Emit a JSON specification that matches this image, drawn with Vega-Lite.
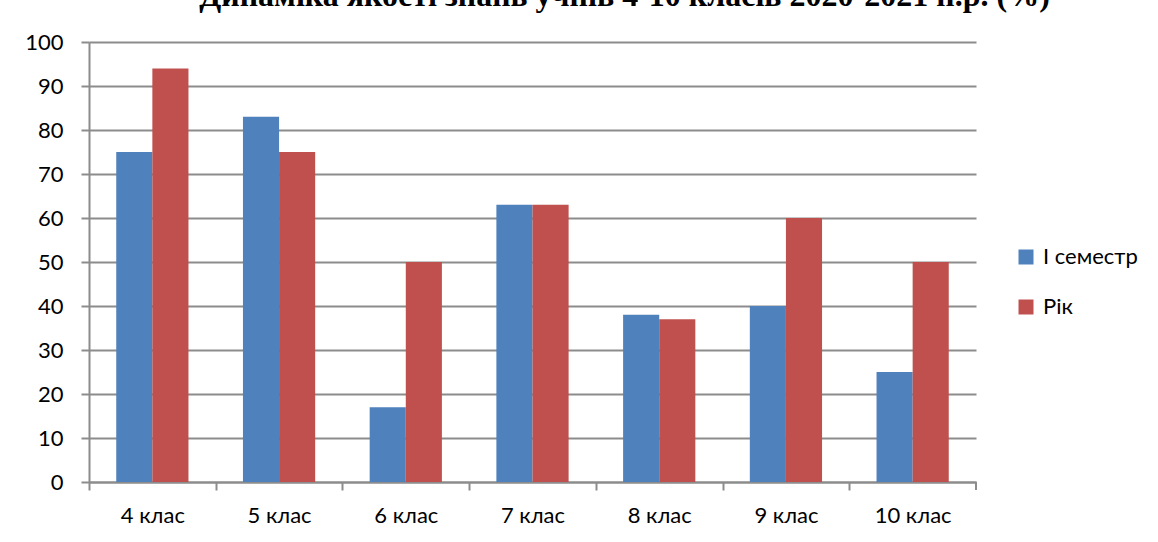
{
  "$schema": "https://vega.github.io/schema/vega-lite/v6.json",
  "width": 887,
  "height": 440,
  "autosize": {"type": "none"},
  "padding": {"left": 89, "top": 42, "right": 182, "bottom": 60},
  "background": "white",
  "title": {
    "text": "Динаміка якості знань учнів 4-10 класів 2020-2021 н.р. (%)",
    "font": "Liberation Serif",
    "fontSize": 32,
    "fontWeight": "bold",
    "color": "black",
    "anchor": "middle",
    "baseline": "alphabetic",
    "dx": 92,
    "offset": -7
  },
  "data": {
    "values": [
      {"klas": "4 клас", "series": "І семестр", "value": 75},
      {"klas": "4 клас", "series": "Рік", "value": 94},
      {"klas": "5 клас", "series": "І семестр", "value": 83},
      {"klas": "5 клас", "series": "Рік", "value": 75},
      {"klas": "6 клас", "series": "І семестр", "value": 17},
      {"klas": "6 клас", "series": "Рік", "value": 50},
      {"klas": "7 клас", "series": "І семестр", "value": 63},
      {"klas": "7 клас", "series": "Рік", "value": 63},
      {"klas": "8 клас", "series": "І семестр", "value": 38},
      {"klas": "8 клас", "series": "Рік", "value": 37},
      {"klas": "9 клас", "series": "І семестр", "value": 40},
      {"klas": "9 клас", "series": "Рік", "value": 60},
      {"klas": "10 клас", "series": "І семестр", "value": 25},
      {"klas": "10 клас", "series": "Рік", "value": 50}
    ]
  },
  "layer": [
    {
      "mark": {"type": "bar"},
      "encoding": {
        "x": {
          "field": "klas",
          "type": "nominal",
          "sort": null,
          "title": null,
          "scale": {
            "domain": ["4 клас", "5 клас", "6 клас", "7 клас", "8 клас", "9 клас", "10 клас"],
            "paddingInner": 0.43,
            "paddingOuter": 0.215
          },
          "axis": {
            "labelAngle": 0,
            "labelFont": "Lato",
            "labelFontSize": 22,
            "labelColor": "black",
            "labelPadding": 15,
            "tickOffset": -63.4,
            "labelOffset": 63.4,
            "tickSize": 8,
            "tickColor": "#8c8c8c",
            "tickWidth": 2,
            "domainColor": "#8c8c8c",
            "domainWidth": 2,
            "grid": false
          }
        },
        "y": {
          "field": "value",
          "type": "quantitative",
          "title": null,
          "scale": {"domain": [0, 100], "nice": false},
          "axis": {
            "values": [0, 10, 20, 30, 40, 50, 60, 70, 80, 90, 100],
            "labelFont": "Lato",
            "labelFontSize": 22,
            "labelColor": "black",
            "labelPadding": 18,
            "tickSize": 8,
            "tickColor": "#8c8c8c",
            "tickWidth": 2,
            "domainColor": "#8c8c8c",
            "domainWidth": 2,
            "grid": true,
            "gridColor": "#8c8c8c",
            "gridWidth": 2
          }
        },
        "xOffset": {"field": "series", "sort": ["І семестр", "Рік"]},
        "color": {
          "field": "series",
          "type": "nominal",
          "sort": ["І семестр", "Рік"],
          "scale": {"domain": ["І семестр", "Рік"], "range": ["#4F81BD", "#C0504D"]},
          "legend": {
            "title": null,
            "orient": "none",
            "legendX": 926,
            "legendY": 204,
            "symbolType": "square",
            "symbolSize": 225,
            "symbolStrokeWidth": 0,
            "labelFont": "Lato",
            "labelFontSize": 22,
            "labelColor": "black",
            "labelOffset": 6,
            "rowPadding": 28
          }
        }
      }
    },
    {
      "transform": [{"filter": "datum.klas === '10 клас' && datum.series === 'Рік'"}],
      "mark": {"type": "rule", "color": "#8c8c8c", "strokeWidth": 2},
      "encoding": {
        "x": {"field": "klas", "type": "nominal", "sort": null, "bandPosition": 1.377},
        "y": {"datum": 0},
        "y2": {"datum": -1.82}
      }
    }
  ],
  "config": {
    "view": {"stroke": null}
  }
}
